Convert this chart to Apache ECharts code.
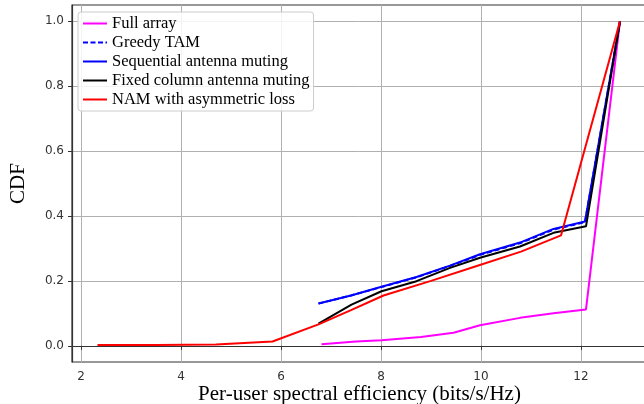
<!DOCTYPE html>
<html><head><meta charset="utf-8">
<script src="https://cdn.jsdelivr.net/npm/echarts@6/dist/echarts.min.js"></script>
<style>html,body{margin:0;padding:0;background:#fff}#c{width:644px;height:404px}</style>
</head><body><div id="c"></div>
<script>
const seriesNames = ['Full array','Greedy TAM','Sequential antenna muting','Fixed column antenna muting','NAM with asymmetric loss'];
const fullArrayX = [6.81, 7.5, 8.01, 8.8, 9.45, 9.98, 10.78, 11.45, 12.1, 12.78];
const fullArrayY = [0.005, 0.013, 0.017, 0.027, 0.04, 0.063, 0.086, 0.1, 0.112, 1.0];
const greedyX = [6.75, 7.4, 8.01, 8.71, 9.38, 9.98, 10.78, 11.45, 12.08, 12.78];
const greedyY = [0.13, 0.155, 0.181, 0.211, 0.246, 0.28, 0.316, 0.358, 0.381, 1.0];
const seqX = [6.75, 7.4, 8.01, 8.71, 9.38, 9.98, 10.78, 11.45, 12.08, 12.78];
const seqY = [0.13, 0.155, 0.182, 0.212, 0.247, 0.282, 0.318, 0.36, 0.383, 1.0];
const fixedX = [6.75, 7.41, 8.01, 8.71, 9.38, 9.98, 10.78, 11.45, 12.1, 12.78];
const fixedY = [0.068, 0.127, 0.168, 0.199, 0.24, 0.271, 0.306, 0.348, 0.368, 1.0];
const namX = [2.33, 3.5, 4.7, 5.83, 6.75, 7.4, 8.05, 9.0, 9.9, 10.8, 11.6, 12.78];
const namY = [0.002, 0.002, 0.004, 0.013, 0.066, 0.11, 0.155, 0.2, 0.245, 0.29, 0.34, 1.0];
const xTicks = [2, 4, 6, 8, 10, 12];
const yTicks = [0.0, 0.2, 0.4, 0.6, 0.8, 1.0];

const zip = (xs, ys) => xs.map((x, i) => [x, ys[i]]);
const colors = ['#ff00ff', '#0000ff', '#0000ff', '#000000', '#ff0000'];
const datas = [zip(fullArrayX, fullArrayY), zip(greedyX, greedyY), zip(seqX, seqY), zip(fixedX, fixedY), zip(namX, namY)];
const order = [0, 2, 3, 1, 4];
const series = order.map(i => ({
  name: seriesNames[i], type: 'line', data: datas[i], symbol: 'none', showSymbol: false, smooth: false,
  lineStyle: { color: colors[i], width: 2, type: i === 1 ? [5, 3] : 'solid' },
  itemStyle: { color: colors[i] }, z: 2 + i
}));
const solidIcon = 'path://M0,0H24V2H0Z';
const dashIcon = 'path://M0,0H5V2H0Z M7.5,0H12.5V2H7.5Z M15,0H20V2H15Z M22.5,0H24V2H22.5Z';

const chart = echarts.init(document.getElementById('c'), null, { renderer: 'canvas' });
chart.setOption({
  animation: false,
  backgroundColor: '#fff',
  grid: { left: 72, right: -3, top: 5, bottom: 42, containLabel: false, outerBoundsMode: 'none',
          show: true, borderColor: '#333', borderWidth: 1.2, backgroundColor: 'transparent' },
  xAxis: {
    type: 'value', min: 1.82, max: 13.32,
    name: 'Per-user spectral efficiency (bits/s/Hz)', nameLocation: 'middle', nameGap: 22, nameMoveOverlap: false,
    nameTextStyle: { fontFamily: 'Liberation Serif', fontSize: 21, color: '#000' },
    axisLine: { show: true, lineStyle: { color: '#333', width: 1.2 } },
    axisTick: { show: true, customValues: xTicks, length: 4, lineStyle: { color: '#333' } },
    axisLabel: { customValues: xTicks, fontFamily: 'DejaVu Sans', fontSize: 12, color: '#333', margin: 9, formatter: v => String(v) },
    splitLine: { show: true, lineStyle: { color: '#b0b0b0', width: 1 } }
  },
  yAxis: {
    type: 'value', min: -0.05, max: 1.05,
    name: 'CDF', nameLocation: 'middle', nameGap: 43, nameRotate: 90, nameMoveOverlap: false,
    nameTextStyle: { fontFamily: 'Liberation Serif', fontSize: 21, color: '#000' },
    axisLine: { show: true, lineStyle: { color: '#333', width: 1.2 } },
    axisTick: { show: true, customValues: yTicks, length: 4, lineStyle: { color: '#333' } },
    axisLabel: { customValues: yTicks, fontFamily: 'DejaVu Sans', fontSize: 12, color: '#333', margin: 8, formatter: v => v.toFixed(1) },
    splitLine: { show: true, lineStyle: { color: '#b0b0b0', width: 1 } }
  },
  legend: {
    data: seriesNames.map((n, i) => ({ name: n, icon: i === 1 ? dashIcon : solidIcon, itemStyle: { color: colors[i], borderWidth: 0 } })),
    orient: 'vertical', left: 78, top: 12, padding: [3, 4, 3, 5],
    itemWidth: 24, itemHeight: 2, itemGap: 2,
    backgroundColor: 'rgba(255,255,255,0.85)', borderColor: '#cccccc', borderWidth: 1, borderRadius: 3,
    textStyle: { fontFamily: 'Liberation Serif', fontSize: 16.5, color: '#000' }
  },
  series: series
});
</script></body></html>
